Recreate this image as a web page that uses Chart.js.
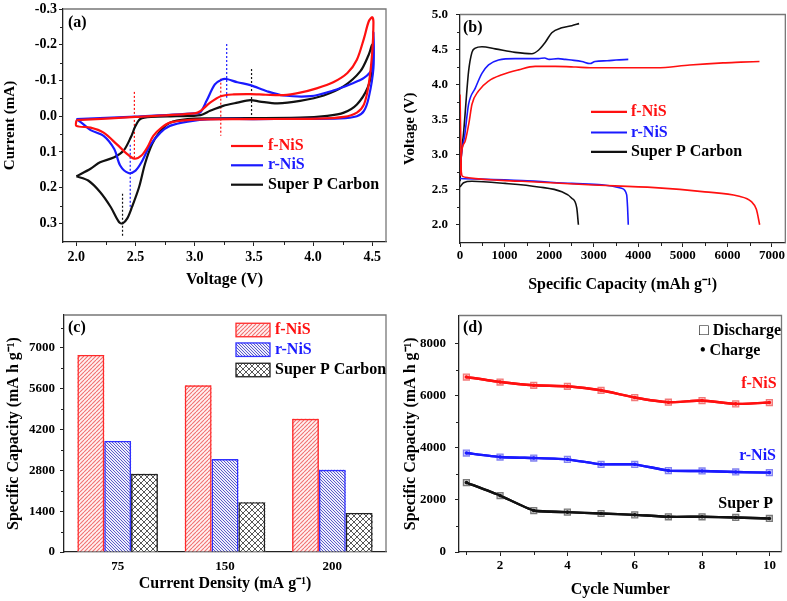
<!DOCTYPE html>
<html>
<head>
<meta charset="utf-8">
<script src="https://cdn.jsdelivr.net/npm/chart.js@4.4.1/dist/chart.umd.min.js"></script>
<style>
  body { margin: 0; background: #fff; }
  #wrap { position: relative; width: 787px; height: 601px; background: #fff; }
  canvas { position: absolute; }
</style>
</head>
<body>
<div id="wrap">
  <canvas id="cA" width="393" height="300" style="left:0;top:0;width:393px;height:300px"></canvas>
  <canvas id="cB" width="394" height="300" style="left:393px;top:0;width:394px;height:300px"></canvas>
  <canvas id="cC" width="393" height="301" style="left:0;top:300px;width:393px;height:301px"></canvas>
  <canvas id="cD" width="394" height="301" style="left:393px;top:300px;width:394px;height:301px"></canvas>
</div>
<script>
// ---- (a) cyclic voltammetry, voltage (V) vs current (mA)
var cvF_V = [2.0, 2.5, 3.0, 3.05, 3.13, 3.22, 3.33, 3.47, 3.6, 3.75, 3.89, 4.03, 4.17, 4.29, 4.37, 4.43, 4.47, 4.50, 4.51, 4.50, 4.47, 4.43, 4.37, 4.26, 4.04, 3.5, 3.13, 2.94, 2.79, 2.72, 2.65, 2.60, 2.55, 2.49, 2.43, 2.34, 2.23, 2.12, 2.0, 2.0];
var cvF_I = [0.011, 0.002, -0.008, -0.015, -0.038, -0.056, -0.061, -0.062, -0.060, -0.059, -0.066, -0.078, -0.095, -0.121, -0.158, -0.218, -0.265, -0.277, -0.262, -0.18, -0.089, -0.033, -0.010, 0.002, 0.007, 0.008, 0.009, 0.011, 0.018, 0.032, 0.055, 0.087, 0.110, 0.119, 0.106, 0.078, 0.046, 0.032, 0.027, 0.011];
var cvR_V = [2.0, 2.5, 3.0, 3.05, 3.10, 3.17, 3.23, 3.27, 3.36, 3.47, 3.61, 3.75, 3.98, 4.17, 4.31, 4.43, 4.50, 4.51, 4.51, 4.47, 4.43, 4.37, 4.23, 3.5, 3.13, 2.94, 2.79, 2.71, 2.62, 2.55, 2.50, 2.44, 2.37, 2.32, 2.23, 2.12, 2.05, 2.0];
var cvR_I = [0.008, 0.001, -0.008, -0.012, -0.043, -0.089, -0.103, -0.104, -0.095, -0.087, -0.070, -0.058, -0.056, -0.072, -0.089, -0.107, -0.135, -0.237, -0.135, -0.052, -0.015, 0.0, 0.006, 0.008, 0.008, 0.015, 0.027, 0.046, 0.083, 0.129, 0.152, 0.159, 0.138, 0.092, 0.055, 0.039, 0.020, 0.008];
var cvS_V = [2.0, 2.12, 2.20, 2.32, 2.40, 2.46, 2.50, 2.54, 2.63, 2.85, 3.05, 3.13, 3.24, 3.36, 3.47, 3.55, 3.70, 3.89, 4.09, 4.26, 4.40, 4.47, 4.50, 4.50, 4.46, 4.37, 4.26, 4.12, 3.89, 3.13, 2.94, 2.79, 2.71, 2.64, 2.58, 2.53, 2.47, 2.43, 2.39, 2.36, 2.29, 2.20, 2.10, 2.0];
var cvS_I = [0.168, 0.147, 0.129, 0.115, 0.096, 0.059, 0.027, 0.008, 0.002, 0.0, -0.003, -0.015, -0.029, -0.038, -0.045, -0.041, -0.036, -0.043, -0.058, -0.084, -0.126, -0.172, -0.200, -0.135, -0.079, -0.033, -0.010, -0.001, 0.004, 0.006, 0.008, 0.018, 0.041, 0.078, 0.133, 0.198, 0.254, 0.286, 0.300, 0.296, 0.254, 0.212, 0.180, 0.168];
// dotted peak markers
var peakOf   = ['f', 'r', 's', 'f', 'r', 's'];
var peakVolt = [2.49, 2.455, 2.39, 3.22, 3.27, 3.48];
var peakFrom = [-0.068, 0.08, 0.217, -0.105, -0.202, -0.132];
var peakTo   = [0.12, 0.26, 0.34, 0.055, -0.052, 0.008];
var aXTicks = [2.0, 2.5, 3.0, 3.5, 4.0, 4.5];
var aXMinor = [2.25, 2.75, 3.25, 3.75, 4.25];
var aYTicks = [-0.3, -0.2, -0.1, 0.0, 0.1, 0.2, 0.3];
var aYMinor = [-0.25, -0.15, -0.05, 0.05, 0.15, 0.25];

// ---- (b) charge / discharge profiles, capacity (mAh/g) vs voltage (V)
var chgF_C = [0, 40, 120, 200, 269, 417, 641, 940, 1313, 1686, 2134, 2600, 2918, 3500, 4411, 5157, 5903, 6300, 6720];
var chgF_V = [2.70, 3.05, 3.20, 3.45, 3.72, 3.91, 4.05, 4.14, 4.21, 4.26, 4.26, 4.25, 4.24, 4.24, 4.24, 4.28, 4.31, 4.32, 4.33];
var chgR_C = [0, 40, 100, 193, 343, 492, 641, 865, 1238, 1760, 1900, 2000, 2200, 2358, 2500, 2732, 2918, 3030, 3300, 3500, 3776];
var chgR_V = [2.70, 3.05, 3.25, 3.72, 3.95, 4.16, 4.28, 4.35, 4.37, 4.37, 4.38, 4.36, 4.37, 4.36, 4.35, 4.33, 4.30, 4.33, 4.34, 4.35, 4.36];
var chgS_C = [0, 30, 80, 193, 268, 343, 492, 790, 1238, 1612, 1760, 1910, 2060, 2284, 2508, 2672];
var chgS_V = [2.62, 3.00, 3.31, 4.19, 4.46, 4.52, 4.54, 4.51, 4.46, 4.44, 4.49, 4.60, 4.74, 4.81, 4.84, 4.87];
var disF_C = [0, 15, 30, 60, 193, 1388, 2880, 4373, 5493, 6239, 6538, 6650, 6724];
var disF_V = [3.86, 3.30, 2.75, 2.69, 2.67, 2.62, 2.57, 2.53, 2.47, 2.41, 2.33, 2.22, 2.00];
var disR_C = [0, 1388, 2508, 3180, 3627, 3739, 3760, 3776];
var disR_V = [2.66, 2.63, 2.59, 2.57, 2.52, 2.43, 2.25, 2.00];
var disS_C = [0, 80, 268, 1014, 1760, 2284, 2508, 2620, 2657];
var disS_V = [2.54, 2.60, 2.62, 2.59, 2.54, 2.47, 2.38, 2.24, 2.00];
var bXTicks = [0, 1000, 2000, 3000, 4000, 5000, 6000, 7000];
var bXMinor = [500, 1500, 2500, 3500, 4500, 5500, 6500];
var bYTicks = [2.0, 2.5, 3.0, 3.5, 4.0, 4.5, 5.0];
var bYMinor = [2.25, 2.75, 3.25, 3.75, 4.25, 4.75];

// ---- (c) capacity vs current density
var densities = ['75', '150', '200'];
var capF = [6760, 5720, 4570];
var capR = [3810, 3190, 2820];
var capS = [2680, 1710, 1340];
var cYTicks = [0, 1400, 2800, 4200, 5600, 7000];
var cYMinor = [700, 2100, 3500, 4900, 6300, 7700];

// ---- (d) cycling
var cycles = [1, 2, 3, 4, 5, 6, 7, 8, 9, 10];
var disCycF = [6722, 6530, 6404, 6366, 6213, 5933, 5753, 5818, 5689, 5741];
var chgCycF = [6722, 6530, 6404, 6366, 6213, 5933, 5753, 5818, 5689, 5741];
var disCycR = [3801, 3648, 3610, 3560, 3368, 3368, 3125, 3112, 3074, 3048];
var chgCycR = [3801, 3648, 3610, 3560, 3368, 3368, 3125, 3112, 3074, 3048];
var disCycS = [2665, 2167, 1593, 1531, 1479, 1428, 1352, 1352, 1327, 1288];
var chgCycS = [2665, 2167, 1593, 1531, 1479, 1428, 1352, 1352, 1327, 1288];
var dXTicks = [2, 4, 6, 8, 10];
var dXMinor = [1, 3, 5, 7, 9];
var dYTicks = [0, 2000, 4000, 6000, 8000];
var dYMinor = [1000, 3000, 5000, 7000];

var FONT = "'Liberation Serif', 'Times New Roman', serif";
var RED = '#ff1010', BLUE = '#1a1aff', BLACK = '#111';
var colorOf = { f: RED, r: BLUE, s: BLACK };

function pts(xs, ys) {
  return xs.map(function (x, i) { return { x: x, y: ys[i] }; });
}

// hatch fill for the bars
function hatch(bg, color, dirs, gap, lw) {
  var c = document.createElement('canvas');
  c.width = gap; c.height = gap;
  var g = c.getContext('2d');
  g.fillStyle = bg;
  g.fillRect(0, 0, gap, gap);
  g.strokeStyle = color;
  g.lineWidth = lw;
  dirs.forEach(function (d) {
    [-gap, 0, gap].forEach(function (k) {
      g.beginPath();
      if (d === '/') { g.moveTo(k, gap); g.lineTo(k + gap, 0); }
      else { g.moveTo(k, 0); g.lineTo(k + gap, gap); }
      g.stroke();
    });
  });
  return g.createPattern(c, 'repeat');
}

// frame, minor ticks, labels and legends
var deco = {
  id: 'deco',
  beforeDatasetsDraw: function (chart, args, o) {
    // hatch fills under each bar, at the bar element's own position
    if (!o.hatches) return;
    var ctx = chart.ctx;
    ctx.save();
    chart.data.datasets.forEach(function (ds, i) {
      chart.getDatasetMeta(i).data.forEach(function (bar) {
        var p = bar.getProps(['x', 'y', 'base', 'width'], true);
        ctx.fillStyle = o.hatches[i];
        ctx.fillRect(p.x - p.width / 2, p.y, p.width, p.base - p.y);
      });
    });
    ctx.restore();
  },
  afterDraw: function (chart, args, o) {
    var ctx = chart.ctx, a = chart.chartArea;
    ctx.save();
    ctx.strokeStyle = '#777';
    ctx.lineWidth = 1.3;
    ctx.beginPath();
    ctx.moveTo(a.left, a.top); ctx.lineTo(a.right, a.top); ctx.lineTo(a.right, a.bottom);
    ctx.stroke();

    ctx.strokeStyle = '#222';
    ctx.lineWidth = 1;
    (o.minorX || []).forEach(function (v) {
      var x = Math.round(chart.scales.x.getPixelForValue(v)) + 0.5;
      ctx.beginPath(); ctx.moveTo(x, a.bottom); ctx.lineTo(x, a.bottom + 3); ctx.stroke();
    });
    (o.minorY || []).forEach(function (v) {
      var y = Math.round(chart.scales.y.getPixelForValue(v)) + 0.5;
      ctx.beginPath(); ctx.moveTo(a.left - 3, y); ctx.lineTo(a.left, y); ctx.stroke();
    });

    (o.lines || []).forEach(function (l) {
      ctx.strokeStyle = l.color;
      ctx.lineWidth = 2.2;
      ctx.beginPath(); ctx.moveTo(a.left + l.x0, a.top + l.y); ctx.lineTo(a.left + l.x1, a.top + l.y); ctx.stroke();
    });
    (o.boxes || []).forEach(function (b) {
      var ds = chart.data.datasets[b.ds];
      ctx.fillStyle = o.hatches[b.ds];
      ctx.fillRect(a.left + b.x, a.top + b.y - b.h / 2, b.w, b.h);
      ctx.strokeStyle = ds.borderColor;
      ctx.lineWidth = 1.3;
      ctx.strokeRect(a.left + b.x, a.top + b.y - b.h / 2, b.w, b.h);
    });
    (o.texts || []).forEach(function (t) {
      ctx.font = 'bold ' + (t.size || 16) + 'px ' + FONT;
      ctx.fillStyle = t.color || '#000';
      ctx.textAlign = t.align || 'left';
      ctx.textBaseline = 'middle';
      ctx.fillText(t.text, a.left + t.dx, a.top + t.dy);
    });
    ctx.restore();
  }
};

function linAxis(o) {
  return {
    type: 'linear',
    position: o.pos,
    min: o.min,
    max: o.max,
    reverse: !!o.reverse,
    afterBuildTicks: function (s) { s.ticks = o.ticks.map(function (v) { return { value: v }; }); },
    afterFit: function (s) { if (o.pos === 'left') s.width = o.size; else s.height = o.size; },
    ticks: { color: '#000', font: { family: FONT, size: o.font, weight: 'bold', lineHeight: 1 }, padding: o.pad,
             autoSkip: false, maxRotation: 0, callback: o.fmt },
    grid: { drawOnChartArea: false, drawTicks: true, tickLength: 4, color: '#222' },
    border: { display: true, color: '#222', width: 1.3 },
    title: { display: true, text: o.title, color: '#000',
             font: { family: FONT, size: o.tsize, weight: 'bold', lineHeight: 1.2 },
             padding: o.pos === 'left' ? { top: o.tpad, bottom: 0 } : { top: 0, bottom: o.tpad } }
  };
}

function fix1(v) { return Number(v).toFixed(1); }
function plain(v) { return String(v); }

var common = {
  responsive: false,
  animation: false,
  devicePixelRatio: 1,
  events: []
};

// ----- chart (a)
var dsA = [
  { data: pts(cvF_V, cvF_I), borderColor: RED },
  { data: pts(cvR_V, cvR_I), borderColor: BLUE },
  { data: pts(cvS_V, cvS_I), borderColor: BLACK }
].map(function (d) {
  return Object.assign(d, { showLine: true, pointRadius: 0, borderWidth: 2.2, tension: 0.3, fill: false });
});
peakVolt.forEach(function (v, i) {
  dsA.push({ data: [{ x: v, y: peakFrom[i] }, { x: v, y: peakTo[i] }], showLine: true, pointRadius: 0,
             borderColor: colorOf[peakOf[i]], borderWidth: 1.2, borderDash: [2, 2] });
});

new Chart(document.getElementById('cA'), {
  type: 'scatter',
  data: { datasets: dsA },
  plugins: [deco],
  options: Object.assign({}, common, {
    layout: { padding: { left: 0, top: 7, right: 7, bottom: 0 } },
    scales: {
      x: linAxis({ pos: 'bottom', min: 1.887, max: 4.616, ticks: aXTicks, size: 58, font: 14, pad: 4, fmt: fix1,
                   title: 'Voltage (V)', tsize: 16, tpad: 11 }),
      y: linAxis({ pos: 'left', min: -0.3, max: 0.352, reverse: true, ticks: aYTicks, size: 63, font: 14, pad: 2, fmt: fix1,
                   title: 'Current (mA)', tsize: 15, tpad: 1 })
    },
    plugins: {
      legend: { display: false }, tooltip: { enabled: false },
      deco: {
        minorX: aXMinor, minorY: aYMinor,
        lines: [{ x0: 168, x1: 200, y: 137, color: RED }, { x0: 168, x1: 200, y: 156.3, color: BLUE },
                { x0: 168, x1: 200, y: 175.7, color: BLACK }],
        texts: [{ text: '(a)', dx: 5, dy: 14 },
                { text: 'f-NiS', dx: 205, dy: 137, color: RED },
                { text: 'r-NiS', dx: 205, dy: 156.3, color: BLUE },
                { text: 'Super P Carbon', dx: 205, dy: 175.7 }]
      }
    }
  })
});

// ----- chart (b)
var dsB = [
  { data: pts(chgF_C, chgF_V), borderColor: RED },
  { data: pts(disF_C, disF_V), borderColor: RED },
  { data: pts(chgR_C, chgR_V), borderColor: BLUE },
  { data: pts(disR_C, disR_V), borderColor: BLUE },
  { data: pts(chgS_C, chgS_V), borderColor: BLACK },
  { data: pts(disS_C, disS_V), borderColor: BLACK }
].map(function (d) {
  return Object.assign(d, { showLine: true, pointRadius: 0, borderWidth: 1.6, cubicInterpolationMode: 'monotone' });
});

new Chart(document.getElementById('cB'), {
  type: 'scatter',
  data: { datasets: dsB },
  plugins: [deco],
  options: Object.assign({}, common, {
    layout: { padding: { left: 0, top: 7, right: 1, bottom: 0 } },
    scales: {
      x: linAxis({ pos: 'bottom', min: 0, max: 7300, ticks: bXTicks, size: 57, font: 13, pad: 2, fmt: plain,
                   title: 'Specific Capacity (mAh g\u207B\u00B9)', tsize: 16, tpad: 6 }),
      y: linAxis({ pos: 'left', min: 1.74, max: 5.0, ticks: bYTicks, size: 67, font: 13, pad: 8, fmt: fix1,
                   title: 'Voltage (V)', tsize: 15, tpad: 8 })
    },
    plugins: {
      legend: { display: false }, tooltip: { enabled: false },
      deco: {
        minorX: bXMinor, minorY: bYMinor,
        lines: [{ x0: 131, x1: 167, y: 97.3, color: RED }, { x0: 131, x1: 167, y: 118, color: BLUE },
                { x0: 131, x1: 167, y: 137.3, color: BLACK }],
        texts: [{ text: '(b)', dx: 3, dy: 13 },
                { text: 'f-NiS', dx: 171, dy: 97.3, color: RED },
                { text: 'r-NiS', dx: 171, dy: 118, color: BLUE },
                { text: 'Super P Carbon', dx: 171, dy: 137.3 }]
      }
    }
  })
});

// ----- chart (c)
var hatchC = [
  hatch('#fff2f2', '#f07070', ['/'], 4, 1.1),
  hatch('#eeeefc', '#5c5cc8', ['\\'], 3, 1),
  hatch('#ffffff', '#585858', ['/', '\\'], 6, 1)
];
new Chart(document.getElementById('cC'), {
  type: 'bar',
  data: {
    labels: densities,
    datasets: [
      { label: 'f-NiS', data: capF, borderColor: '#ff2a2a' },
      { label: 'r-NiS', data: capR, borderColor: '#3030ff' },
      { label: 'Super P Carbon', data: capS, borderColor: '#222' }
    ].map(function (d) {
      return Object.assign(d, { backgroundColor: 'rgba(0,0,0,0)', borderWidth: 1.4, borderSkipped: 'bottom',
                                categoryPercentage: 0.75, barPercentage: 1.0 });
    })
  },
  plugins: [deco],
  options: Object.assign({}, common, {
    layout: { padding: { left: 0, top: 15, right: 7, bottom: 0 } },
    scales: {
      x: {
        type: 'category', offset: true,
        afterFit: function (s) { s.height = 49; },
        ticks: { color: '#000', font: { family: FONT, size: 13, weight: 'bold', lineHeight: 1 }, padding: 8 },
        grid: { display: false, drawTicks: false },
        border: { display: true, color: '#222', width: 1.3 },
        title: { display: true, text: 'Current Density (mA g\u207B\u00B9)', color: '#000',
                 font: { family: FONT, size: 16, weight: 'bold', lineHeight: 1.2 }, padding: { top: 0, bottom: 8 } }
      },
      y: linAxis({ pos: 'left', min: 0, max: 8130, ticks: cYTicks, size: 64, font: 13, pad: 5, fmt: plain,
                   title: 'Specific Capacity (mA h g\u207B\u00B9)', tsize: 16, tpad: 4 })
    },
    plugins: {
      legend: { display: false }, tooltip: { enabled: false },
      deco: {
        hatches: hatchC,
        minorY: cYMinor,
        boxes: [{ ds: 0, x: 172, y: 15, w: 34, h: 13.5 }, { ds: 1, x: 172, y: 34.7, w: 34, h: 13.5 },
                { ds: 2, x: 172, y: 55, w: 34, h: 13.5 }],
        texts: [{ text: '(c)', dx: 4, dy: 13 },
                { text: 'f-NiS', dx: 211, dy: 15, color: RED },
                { text: 'r-NiS', dx: 211, dy: 34.7, color: BLUE },
                { text: 'Super P Carbon', dx: 211, dy: 55 }]
      }
    }
  })
});

// ----- chart (d)
function cycleSet(vals, line, light, soft, kind) {
  var d = { data: pts(cycles, vals), showLine: true, borderColor: line, borderWidth: 2.4, tension: 0.15 };
  if (kind === 'dis') {
    Object.assign(d, { pointStyle: 'rect', pointRadius: 4.2, pointBorderWidth: 1.3, pointBorderColor: light, pointBackgroundColor: soft });
  } else {
    Object.assign(d, { pointStyle: 'circle', pointRadius: 1.8, pointBorderWidth: 0, pointBackgroundColor: line });
  }
  return d;
}

new Chart(document.getElementById('cD'), {
  type: 'scatter',
  data: {
    datasets: [
      cycleSet(chgCycF, RED, 'rgba(240,110,110,0.9)', 'rgba(255,160,160,0.55)', 'chg'),
      cycleSet(disCycF, RED, 'rgba(240,110,110,0.9)', 'rgba(255,160,160,0.55)', 'dis'),
      cycleSet(chgCycR, BLUE, 'rgba(120,120,240,0.9)', 'rgba(170,170,255,0.55)', 'chg'),
      cycleSet(disCycR, BLUE, 'rgba(120,120,240,0.9)', 'rgba(170,170,255,0.55)', 'dis'),
      cycleSet(chgCycS, BLACK, 'rgba(110,110,110,0.9)', 'rgba(170,170,170,0.55)', 'chg'),
      cycleSet(disCycS, BLACK, 'rgba(110,110,110,0.9)', 'rgba(170,170,170,0.55)', 'dis')
    ]
  },
  plugins: [deco],
  options: Object.assign({}, common, {
    layout: { padding: { left: 0, top: 15, right: 1, bottom: 0 } },
    scales: {
      x: linAxis({ pos: 'bottom', min: 0.78, max: 10.36, ticks: dXTicks, size: 49, font: 13, pad: 3, fmt: plain,
                   title: 'Cycle Number', tsize: 16, tpad: 2 }),
      y: linAxis({ pos: 'left', min: 0, max: 9085, ticks: dYTicks, size: 66, font: 13, pad: 9, fmt: plain,
                   title: 'Specific Capacity (mA h g\u207B\u00B9)', tsize: 16, tpad: 8 })
    },
    plugins: {
      legend: { display: false }, tooltip: { enabled: false },
      deco: {
        minorX: dXMinor, minorY: dYMinor,
        texts: [{ text: '(d)', dx: 4, dy: 12 },
                { text: '\u25A1 Discharge', dx: 240, dy: 15.7 },
                { text: '\u2022 Charge', dx: 241, dy: 35 },
                { text: 'f-NiS', dx: 317.7, dy: 68.3, color: RED, align: 'right' },
                { text: 'r-NiS', dx: 317, dy: 140, color: BLUE, align: 'right' },
                { text: 'Super P', dx: 314, dy: 188.3, align: 'right' }]
      }
    }
  })
});
</script>
</body>
</html>
